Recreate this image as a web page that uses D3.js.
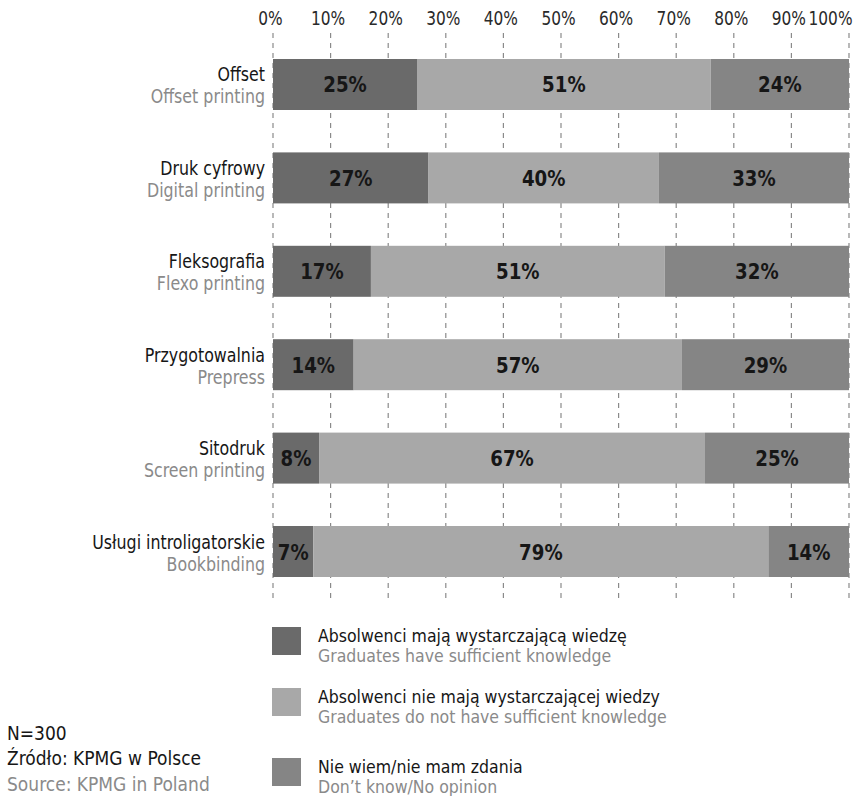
<!DOCTYPE html>
<html>
<head>
<meta charset="utf-8">
<script src="https://cdn.jsdelivr.net/npm/d3@7"></script>
<style>
  body { margin: 0; background: #fff; }
  svg { font-family: "DejaVu Sans Condensed", "Liberation Sans Narrow", sans-serif; }
</style>
</head>
<body>
<div id="chart"></div>
<script>
// Categories (Polish / English)
const categoriesPl = ['Offset', 'Druk cyfrowy', 'Fleksografia', 'Przygotowalnia', 'Sitodruk', 'Usługi introligatorskie'];
const categoriesEn = ['Offset printing', 'Digital printing', 'Flexo printing', 'Prepress', 'Screen printing', 'Bookbinding'];

// Series values (%)
const sufficient = [25, 27, 17, 14, 8, 7];
const insufficient = [51, 40, 51, 57, 67, 79];
const noOpinion = [24, 33, 32, 29, 25, 14];

const seriesKeys = ['sufficient', 'insufficient', 'noOpinion'];
const seriesPl = ['Absolwenci mają wystarczającą wiedzę', 'Absolwenci nie mają wystarczającej wiedzy', 'Nie wiem/nie mam zdania'];
const seriesEn = ['Graduates have sufficient knowledge', 'Graduates do not have sufficient knowledge', 'Don\u2019t know/No opinion'];
const seriesColors = ['#6a6a6a', '#a8a8a8', '#858585'];

const ticks = [0, 10, 20, 30, 40, 50, 60, 70, 80, 90, 100];

const width = 854, height = 796;

const svg = d3.select('#chart').append('svg')
    .attr('width', width)
    .attr('height', height);

const rows = categoriesPl.map((c, i) => ({
    cat: c,
    sufficient: sufficient[i],
    insufficient: insufficient[i],
    noOpinion: noOpinion[i]
}));

const xScale = d3.scaleLinear().domain([0, 100]).range([273, 849]);
const yScale = d3.scaleBand().domain(categoriesPl).range([59, 577]).paddingInner(0.454).paddingOuter(0);
const color = d3.scaleOrdinal().domain(seriesKeys).range(seriesColors);

// condensed text: place at (x,y) and squeeze horizontally
const squeeze = (x, y, k) => `translate(${x},${y}) scale(${k},1)`;

// Dashed gridlines
svg.append('g')
    .selectAll('line')
    .data(ticks)
    .join('line')
    .attr('x1', d => xScale(d))
    .attr('x2', d => xScale(d))
    .attr('y1', 33)
    .attr('y2', 598)
    .attr('stroke', '#8a8a8a')
    .attr('stroke-width', 1.2)
    .attr('stroke-dasharray', '5,5');

// Top axis labels
const axis = d3.axisTop(xScale)
    .tickValues(ticks)
    .tickFormat(d => d + '%')
    .tickSize(0)
    .tickPadding(0);

const axisG = svg.append('g')
    .attr('transform', 'translate(0,25)')
    .call(axis);
axisG.select('.domain').remove();
axisG.selectAll('text')
    .attr('font-size', 19)
    .attr('fill', '#2a2a2a')
    .attr('font-family', '"DejaVu Sans Condensed", sans-serif')
    .attr('y', 0)
    .attr('transform', d => d === 100 ? 'translate(3,0) scale(0.9,1)' : 'translate(-3,0) scale(0.9,1)')
    .attr('text-anchor', d => d === 100 ? 'end' : 'middle');

// Stacked bars
const stack = d3.stack().keys(seriesKeys);
const stacked = stack(rows);

const layers = svg.append('g')
    .selectAll('g')
    .data(stacked)
    .join('g')
    .attr('fill', d => color(d.key));

layers.selectAll('rect')
    .data(d => d)
    .join('rect')
    .attr('x', d => xScale(d[0]))
    .attr('y', d => yScale(d.data.cat))
    .attr('width', d => xScale(d[1]) - xScale(d[0]))
    .attr('height', yScale.bandwidth());

// Value labels
layers.selectAll('text')
    .data(d => d)
    .join('text')
    .attr('transform', d => squeeze((xScale(d[0]) + xScale(d[1])) / 2, yScale(d.data.cat) + yScale.bandwidth() / 2 + 8, 0.92))
    .attr('text-anchor', 'middle')
    .attr('font-size', 22)
    .attr('font-weight', 'bold')
    .attr('fill', '#161616')
    .text(d => (d[1] - d[0]) + '%');

// Category labels
const catG = svg.append('g');
catG.selectAll('text.pl')
    .data(categoriesPl)
    .join('text')
    .attr('class', 'pl')
    .attr('transform', d => squeeze(265, yScale(d) + yScale.bandwidth() / 2 - 3, 0.88))
    .attr('text-anchor', 'end')
    .attr('font-size', 20)
    .attr('fill', '#161616')
    .text(d => d);

catG.selectAll('text.en')
    .data(categoriesEn)
    .join('text')
    .attr('class', 'en')
    .attr('transform', (d, i) => squeeze(265, yScale(categoriesPl[i]) + yScale.bandwidth() / 2 + 19, 0.88))
    .attr('text-anchor', 'end')
    .attr('font-size', 20)
    .attr('fill', '#8a8a8a')
    .text(d => d);

// Legend
const legendY = [627, 688, 758];
const legend = svg.append('g')
    .selectAll('g')
    .data(seriesKeys)
    .join('g')
    .attr('transform', (d, i) => `translate(272,${legendY[i]})`);

legend.append('rect')
    .attr('width', 29)
    .attr('height', 28)
    .attr('fill', d => color(d));

legend.append('text')
    .attr('transform', squeeze(46, 15, 1.0))
    .attr('font-size', 17.5)
    .attr('fill', '#161616')
    .text((d, i) => seriesPl[i]);

legend.append('text')
    .attr('transform', squeeze(46, 35, 1.0))
    .attr('font-size', 17.5)
    .attr('fill', '#8a8a8a')
    .text((d, i) => seriesEn[i]);

// Footnote
const foot = svg.append('g').attr('font-size', 20);
foot.append('text').attr('transform', squeeze(7, 740, 0.95)).attr('fill', '#161616').text('N=300');
foot.append('text').attr('transform', squeeze(7, 765, 0.95)).attr('fill', '#161616').text('Źródło: KPMG w Polsce');
foot.append('text').attr('transform', squeeze(7, 791, 0.95)).attr('fill', '#8a8a8a').text('Source: KPMG in Poland');
</script>
</body>
</html>
